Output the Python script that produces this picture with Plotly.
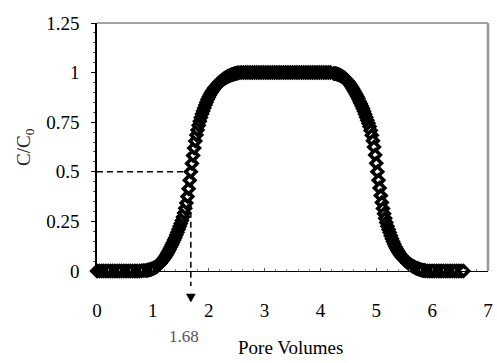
import plotly.graph_objects as go

# ---- data ----
pv_base = [0.00, 0.04, 0.08, 0.12, 0.16, 0.20, 0.24, 0.28, 0.32, 0.36,
           0.40, 0.44, 0.48, 0.52, 0.56, 0.60, 0.64, 0.68, 0.72, 0.76,
           0.80, 0.84, 0.88]
c_base = [0, 0, 0, 0, 0, 0, 0, 0, 0, 0,
          0, 0, 0, 0, 0, 0, 0, 0, 0, 0,
          0.001, 0.002, 0.003]

pv_rise = [0.90, 0.92, 0.94, 0.96, 0.98, 1.00, 1.02, 1.04, 1.06, 1.08,
           1.10, 1.12, 1.14, 1.16, 1.18, 1.20, 1.22, 1.24, 1.26, 1.28,
           1.30, 1.32, 1.34, 1.36, 1.38, 1.40, 1.42, 1.44, 1.46, 1.48,
           1.50, 1.52, 1.54, 1.56, 1.58, 1.60, 1.62, 1.64, 1.66, 1.68,
           1.70, 1.72, 1.74, 1.76, 1.78, 1.80, 1.82, 1.84, 1.86, 1.88,
           1.90, 1.92, 1.94, 1.96, 1.98, 2.00, 2.02, 2.04, 2.06, 2.08,
           2.10, 2.12, 2.14, 2.16, 2.18, 2.20, 2.22, 2.24, 2.26, 2.28,
           2.30, 2.32, 2.34, 2.36, 2.38, 2.40, 2.42, 2.44, 2.46, 2.48,
           2.50, 2.52, 2.54]
c_rise = [0.004, 0.005, 0.006, 0.008, 0.010, 0.012, 0.015, 0.018, 0.021, 0.025,
          0.030, 0.035, 0.041, 0.048, 0.055, 0.063, 0.071, 0.080, 0.090, 0.100,
          0.110, 0.121, 0.132, 0.144, 0.156, 0.168, 0.181, 0.195, 0.210, 0.225,
          0.240, 0.255, 0.272, 0.292, 0.316, 0.343, 0.375, 0.415, 0.457, 0.500,
          0.542, 0.582, 0.620, 0.655, 0.685, 0.711, 0.734, 0.755, 0.774, 0.791,
          0.806, 0.822, 0.837, 0.851, 0.864, 0.876, 0.887, 0.897, 0.906, 0.914,
          0.922, 0.929, 0.935, 0.941, 0.947, 0.952, 0.957, 0.962, 0.966, 0.970,
          0.974, 0.977, 0.980, 0.983, 0.986, 0.988, 0.990, 0.992, 0.994, 0.996,
          0.997, 0.998, 0.999]

pv_plateau = [2.58, 2.62, 2.66, 2.70, 2.74, 2.78, 2.82, 2.86, 2.90, 2.94,
              2.98, 3.02, 3.06, 3.10, 3.14, 3.18, 3.22, 3.26, 3.30, 3.34,
              3.38, 3.42, 3.46, 3.50, 3.54, 3.58, 3.62, 3.66, 3.70, 3.74,
              3.78, 3.82, 3.86, 3.90, 3.94, 3.98, 4.02, 4.06, 4.10, 4.14,
              4.18]
c_plateau = [1, 1, 1, 1, 1, 1, 1, 1, 1, 1,
             1, 1, 1, 1, 1, 1, 1, 1, 1, 1,
             1, 1, 1, 1, 1, 1, 1, 1, 1, 1,
             1, 1, 1, 1, 1, 1, 1, 1, 1, 1,
             1]

pv_fall = [4.24, 4.26, 4.28, 4.30, 4.32, 4.34, 4.36, 4.38, 4.40, 4.42,
           4.44, 4.46, 4.48, 4.50, 4.52, 4.54, 4.56, 4.58, 4.60, 4.62,
           4.64, 4.66, 4.68, 4.70, 4.72, 4.74, 4.76, 4.78, 4.80, 4.82,
           4.84, 4.86, 4.88, 4.90, 4.92, 4.94, 4.96, 4.98, 5.00, 5.02,
           5.04, 5.06, 5.08, 5.10, 5.12, 5.14, 5.16, 5.18, 5.20, 5.22,
           5.24, 5.26, 5.28, 5.30, 5.32, 5.34, 5.36, 5.38, 5.40, 5.42,
           5.44, 5.46, 5.48, 5.50, 5.52, 5.54, 5.56, 5.58, 5.60, 5.62,
           5.64, 5.66, 5.68, 5.70, 5.72, 5.74, 5.76, 5.78, 5.80, 5.82,
           5.84, 5.86, 5.88]
c_fall = [0.996, 0.995, 0.994, 0.992, 0.990, 0.988, 0.985, 0.982, 0.979, 0.975,
          0.970, 0.965, 0.959, 0.952, 0.945, 0.937, 0.929, 0.920, 0.910, 0.900,
          0.890, 0.879, 0.868, 0.856, 0.844, 0.832, 0.819, 0.805, 0.790, 0.775,
          0.760, 0.745, 0.728, 0.708, 0.684, 0.657, 0.625, 0.585, 0.543, 0.500,
          0.458, 0.418, 0.380, 0.345, 0.315, 0.289, 0.266, 0.245, 0.226, 0.209,
          0.194, 0.178, 0.163, 0.149, 0.136, 0.124, 0.113, 0.103, 0.094, 0.086,
          0.078, 0.071, 0.065, 0.059, 0.053, 0.048, 0.043, 0.038, 0.034, 0.030,
          0.026, 0.023, 0.020, 0.017, 0.014, 0.012, 0.010, 0.008, 0.006, 0.004,
          0.003, 0.002, 0.001]

pv_tail = [5.92, 5.96, 6.00, 6.04, 6.08, 6.12, 6.16, 6.20, 6.24, 6.28,
           6.32, 6.36, 6.40, 6.44, 6.48, 6.52, 6.56]
c_tail = [0, 0, 0, 0, 0, 0, 0, 0, 0, 0,
          0, 0, 0, 0, 0, 0, 0]

x_ticks = [0, 1, 2, 3, 4, 5, 6, 7]
y_ticks = [0, 0.25, 0.5, 0.75, 1, 1.25]
y_ticktext = ["0", "0.25", "0.5", "0.75", "1", "1.25"]

pv_half = 1.68      # pore volume where C/C0 = 0.5
c_half = 0.5
half_label = "1.68"

X_RANGE = [0, 7]
Y_RANGE = [0, 1.25]

pv = pv_base + pv_rise + pv_plateau + pv_fall + pv_tail
cc = c_base + c_rise + c_plateau + c_fall + c_tail

FONT = "Liberation Serif"
W, H = 497, 363
ML, MR, MT, MB = 97, 4, 23, 92
PW, PH = W - ML - MR, H - MT - MB


def xp(v):
    return (v - X_RANGE[0]) / (X_RANGE[1] - X_RANGE[0])


def yp(v):
    return (v - Y_RANGE[0]) / (Y_RANGE[1] - Y_RANGE[0])


fig = go.Figure()

dash = dict(color="black", width=1.5, dash="6px,4px")
# dashed guide lines (under the markers)
fig.add_shape(type="line", xref="paper", yref="paper",
              x0=xp(0), x1=xp(pv_half), y0=yp(c_half), y1=yp(c_half),
              line=dash, layer="below")
fig.add_shape(type="line", xref="paper", yref="paper",
              x0=xp(pv_half), x1=xp(pv_half), y0=yp(c_half), y1=-15 / PH,
              line=dash, layer="below")
# arrow head below the axis
ax_c = xp(pv_half)
hw = 4.5 / PW
fig.add_shape(type="path", xref="paper", yref="paper",
              path=f"M {ax_c - hw},{-23 / PH} L {ax_c + hw},{-23 / PH} L {ax_c},{-31 / PH} Z",
              fillcolor="black", line=dict(color="black", width=0.5))

fig.add_trace(go.Scatter(
    x=pv, y=cc, mode="markers",
    marker=dict(symbol="diamond", size=8, color="white",
                line=dict(color="black", width=3.6)),
    cliponaxis=False, showlegend=False, hoverinfo="skip"))

# frame lines (top & right)
fig.add_shape(type="line", xref="paper", yref="paper", x0=0, x1=1, y0=1, y1=1,
              line=dict(color="#444", width=1.2))
fig.add_shape(type="line", xref="paper", yref="paper", x0=1, x1=1, y0=0, y1=1,
              line=dict(color="#999", width=2.5))

fig.add_annotation(x=xp(pv_half) - 7 / PW, y=-65 / PH, xref="paper", yref="paper",
                   xanchor="center", yanchor="middle",
                   text=half_label, showarrow=False,
                   font=dict(family=FONT, size=17, color="#555"))
fig.add_annotation(x=(293 - ML) / PW, y=-76 / PH, xref="paper", yref="paper",
                   xanchor="center", yanchor="middle",
                   text="Pore Volumes", showarrow=False,
                   font=dict(family=FONT, size=19, color="black"))
fig.add_annotation(x=-73 / PW, y=124 / PH, xref="paper", yref="paper",
                   xanchor="center", yanchor="middle",
                   text="C/C<sub>0</sub>", textangle=-90, showarrow=False,
                   font=dict(family=FONT, size=19, color="#222"))

fig.update_layout(
    width=W, height=H,
    margin=dict(l=ML, r=MR, t=MT, b=MB),
    plot_bgcolor="white", paper_bgcolor="white",
    showlegend=False,
    xaxis=dict(range=X_RANGE, tickvals=x_ticks, showline=True, linecolor="black",
               linewidth=1, showgrid=False, zeroline=False, ticks="inside",
               ticklen=3, tickcolor="#555",
               tickfont=dict(family=FONT, size=19, color="black"),
               ticklabelstandoff=22, ticklabeloverflow="allow",
               minor=dict(ticks="inside", ticklen=2, dtick=0.2, tickcolor="#888")),
    yaxis=dict(range=Y_RANGE, tickvals=y_ticks, ticktext=y_ticktext,
               showline=True, linecolor="black", linewidth=1.5, showgrid=False,
               zeroline=False, ticks="outside", ticklen=4, tickcolor="black",
               tickfont=dict(family=FONT, size=19, color="black"),
               ticklabelstandoff=8,
               minor=dict(ticks="outside", ticklen=2, dtick=0.05, tickcolor="#555")),
)

fig.write_html("out.html")
